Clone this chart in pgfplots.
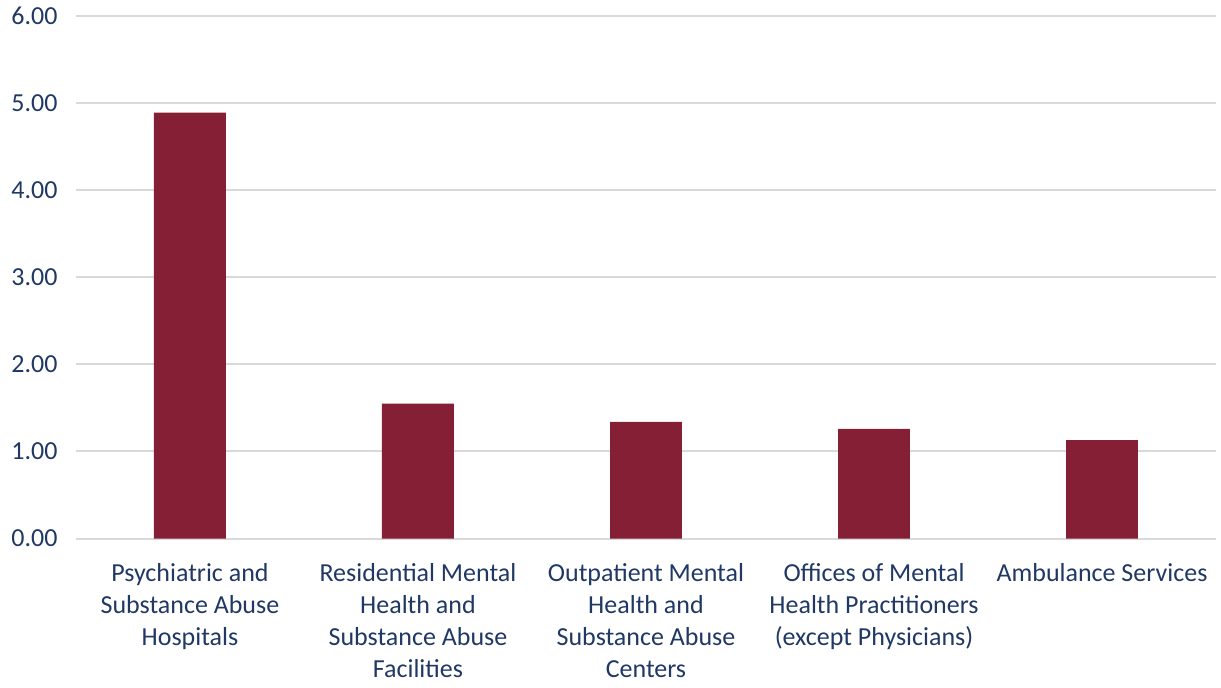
\documentclass[border=0pt]{standalone}
\usepackage{fontspec}
\setmainfont{Carlito}
\usepackage{pgfplots}
\pgfplotsset{compat=1.18}
\definecolor{barc}{HTML}{841F35}
\definecolor{txt}{HTML}{203864}
\definecolor{gridc}{HTML}{D9D9D9}
\begin{document}
\begin{tikzpicture}
\begin{axis}[
  scale only axis,
  width=570.5pt, height=261.5pt,
  xmin=-0.5, xmax=4.5,
  ymin=0, ymax=6,
  ytick={0,1,2,3,4,5,6},
  xtick={0,1,2,3,4},
  xticklabels={{Psychiatric and\\Substance Abuse\\Hospitals},{Residential Mental\\Health and\\Substance Abuse\\Facilities},{Outpatient Mental\\Health and\\Substance Abuse\\Centers},{Offices of Mental\\Health Practitioners\\(except Physicians)},{Ambulance Services}},
  axis line style={draw=none},
  major tick length=0pt,
  ymajorgrids,
  grid style={gridc, line width=1pt},
  /pgf/number format/fixed,
  /pgf/number format/fixed zerofill,
  /pgf/number format/precision=2,
  /pgf/number format/assume math mode=true,
  yticklabel style={font=\fontsize{13}{16}\selectfont, text=txt, inner sep=0pt, xshift=-9pt},
  xticklabel style={font=\fontsize{13}{16}\selectfont, text=txt, align=center, inner sep=0pt, yshift=-12.5pt, anchor=north},
]
\addplot[ybar, bar width=36pt, fill=barc, draw=none] coordinates {(0,4.89) (1,1.55) (2,1.34) (3,1.26) (4,1.13)};
\end{axis}
\path (current axis.south west) ++(-38pt,-74.5pt) (current axis.north east) ++(2.5pt,8pt);
\end{tikzpicture}
\end{document}
